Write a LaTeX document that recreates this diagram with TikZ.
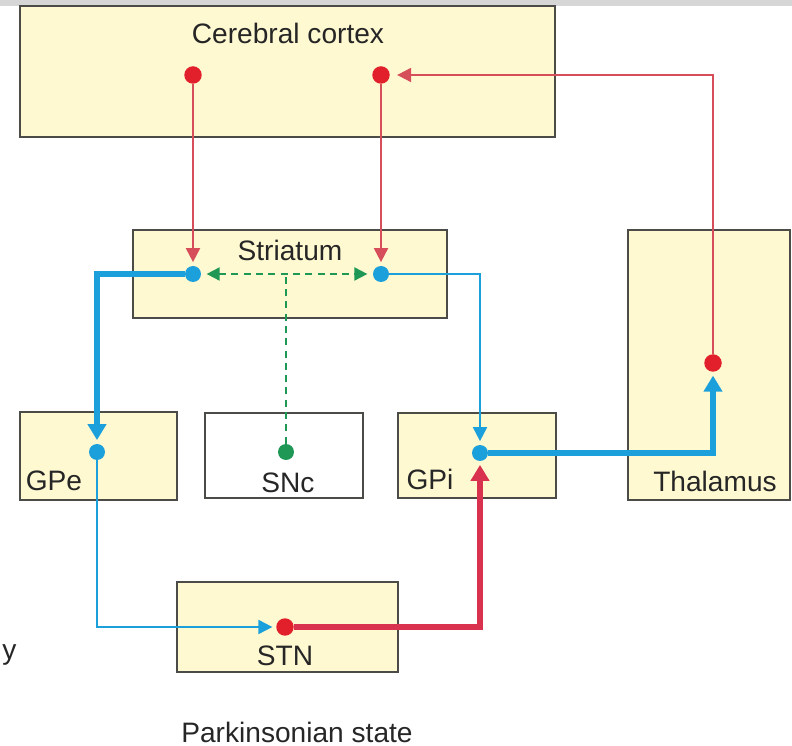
\documentclass[tikz,border=0pt]{standalone}
\usepackage{fontspec}
\setmainfont{Liberation Sans}
\usetikzlibrary{positioning,calc}
\usetikzlibrary{arrows.meta}
\definecolor{nucfill}{RGB}{255,249,210}
\definecolor{nucedge}{RGB}{75,75,72}
\definecolor{excred}{RGB}{226,32,44}
\definecolor{excline}{RGB}{214,78,90}
\definecolor{excthick}{RGB}{216,50,78}
\definecolor{inhblue}{RGB}{28,160,220}
\definecolor{dagreen}{RGB}{30,152,84}
\tikzset{
	nucleus/.style={draw=nucedge,line width=1.1pt,fill=nucfill,rectangle,inner sep=0pt},
	plainnucleus/.style={nucleus,fill=white},
	nuclabel/.style={font=\fontsize{16}{18}\selectfont,text=black!85,inner sep=0pt},
	rdot/.style={circle,fill=excred,inner sep=0pt,minimum size=0.35cm},
	bdot/.style={circle,fill=inhblue,inner sep=0pt,minimum size=0.32cm},
	gdot/.style={circle,fill=dagreen,inner sep=0pt,minimum size=0.32cm},
	smalltip/.style={-{Triangle[length=0.28cm,width=0.28cm]},shorten >=2pt},
	bigtip/.style={-{Triangle[length=0.32cm,width=0.36cm]},shorten >=2pt},
	redthin/.style={draw=excline,line width=1.1pt,smalltip},
	redthick/.style={draw=excthick,line width=3pt,bigtip},
	bluethin/.style={draw=inhblue,line width=1.1pt,smalltip},
	bluethick/.style={draw=inhblue,line width=3pt,bigtip},
	dapath/.style={draw=dagreen,line width=1.1pt,dash pattern=on 4pt off 3pt},
}

\begin{document}
\begin{tikzpicture}[x=0.02cm,y=-0.02cm]
	\useasboundingbox (0,0) rectangle (792,746);
	\fill[black!16] (0,0) rectangle (792,6);

	% Nuclei
	\node[nucleus,minimum width=10.7cm,minimum height=2.62cm] (cortex) at (287.5,71.5) {};
	\node[nucleus,minimum width=6.28cm,minimum height=1.76cm] (striatum) at (290,274) {};
	\node[nucleus,minimum width=3.24cm,minimum height=5.4cm] (thalamus) at (709,365) {};
	\node[nucleus,minimum width=3.14cm,minimum height=1.76cm] (gpe) at (98.5,456) {};
	\node[plainnucleus,minimum width=3.16cm,minimum height=1.7cm] (snc) at (284,455.5) {};
	\node[nucleus,minimum width=3.16cm,minimum height=1.7cm] (gpi) at (477,455.5) {};
	\node[nucleus,minimum width=4.42cm,minimum height=1.8cm] (stn) at (287.5,627) {};

	% Labels
	\node[nuclabel] (cortexlbl) at (288,33) {Cerebral cortex};
	\node[nuclabel] (striatumlbl) at (290,250) {Striatum};
	\node[nuclabel] (thalamuslbl) at (715,481) {Thalamus};
	\node[nuclabel] (gpelbl) at (54,481) {GPe};
	\node[nuclabel] (snclbl) at (288,483) {SNc};
	\node[nuclabel] (gpilbl) at (430,479) {GPi};
	\node[nuclabel] (stnlbl) at (285,656) {STN};
	\node[nuclabel] (statelbl) at (297,732) {Parkinsonian state};
	\node[nuclabel,anchor=west] (edgelbl) at (2,655) {y};

	% Synapse dots
	\node[rdot] (ctxL) at (193,75) {};
	\node[rdot] (ctxR) at (381,75) {};
	\node[bdot] (strL) at (193,274) {};
	\node[bdot] (strR) at (381,274) {};
	\node[bdot] (gpeDot) at (97,452) {};
	\node[gdot] (sncDot) at (286,452) {};
	\node[bdot] (gpiDot) at (480,453) {};
	\node[rdot] (thalDot) at (713,363) {};
	\node[rdot] (stnDot) at (285,627) {};

	% Dopamine input
	\draw[dapath,{Triangle[length=0.26cm,width=0.26cm]}-{Triangle[length=0.26cm,width=0.26cm]},shorten <=3pt,shorten >=3pt] (strL) -- (strR);
	\draw[dapath] (sncDot) -- (sncDot |- strL);

	% Direct and indirect pathways
	\draw[redthin] (ctxL) -- (strL);
	\draw[redthin] (ctxR) -- (strR);
	\draw[bluethick] (strL) -| (gpeDot);
	\draw[bluethin] (strR) -| (gpiDot);
	\draw[bluethin] (gpeDot) |- (stnDot);
	\draw[redthick] (stnDot) -| (gpiDot);
	\draw[bluethick] (gpiDot) -| (thalDot);
	\draw[redthin,shorten >=4pt] (thalDot) |- (ctxR);
\end{tikzpicture}
\end{document}
